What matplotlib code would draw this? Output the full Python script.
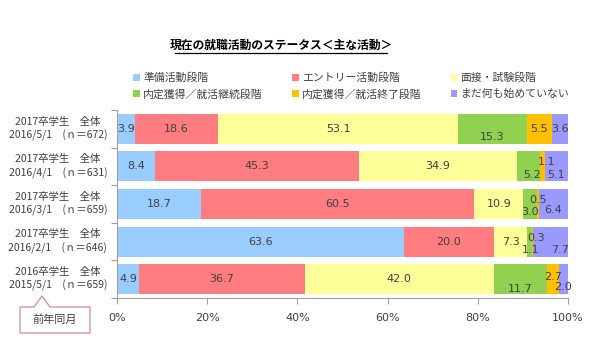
import matplotlib
matplotlib.use("Agg")
import matplotlib.pyplot as plt
from matplotlib.patches import Patch, Polygon
from matplotlib.lines import Line2D
import numpy as np

plt.rcParams['font.family'] = ['Noto Sans CJK JP', 'DejaVu Sans']

title = "現在の就職活動のステータス＜主な活動＞"
series = ["準備活動段階", "エントリー活動段階", "面接・試験段階",
          "内定獲得／就活継続段階", "内定獲得／就活終了段階", "まだ何も始めていない"]
colors = ["#99CCFF", "#FF7C80", "#FFFF99", "#92D050", "#FFC000", "#9999FF"]
categories = ["2017卒学生　全体\n2016/5/1　(ｎ＝672)",
              "2017卒学生　全体\n2016/4/1　(ｎ＝631)",
              "2017卒学生　全体\n2016/3/1　(ｎ＝659)",
              "2017卒学生　全体\n2016/2/1　(ｎ＝646)",
              "2016卒学生　全体\n2015/5/1　(ｎ＝659)"]
s_prep = [3.9, 8.4, 18.7, 63.6, 4.9]
s_entry = [18.6, 45.3, 60.5, 20.0, 36.7]
s_interview = [53.1, 34.9, 10.9, 7.3, 42.0]
s_offer_cont = [15.3, 5.2, 3.0, 1.1, 11.7]
s_offer_end = [5.5, 1.1, 0.5, 0.3, 2.7]
s_not_started = [3.6, 5.1, 6.4, 7.7, 2.0]
values = [s_prep, s_entry, s_interview, s_offer_cont, s_offer_end, s_not_started]
xticklabels = ["0%", "20%", "40%", "60%", "80%", "100%"]
callout_text = "前年同月"

# label offsets in pixels (dx right, dy down) for crowded small segments
offsets = {
    (0, 3): (0, 8),
    (1, 3): (4, 9), (1, 4): (4, -4), (1, 5): (0, 9),
    (2, 3): (0, 8), (2, 4): (0, -4), (2, 5): (0, 6),
    (3, 3): (1, 8), (3, 4): (3, -4), (3, 5): (9, 8),
    (4, 3): (0, 10), (4, 4): (0, -2), (4, 5): (0, 8),
}

W, H = 600, 357
fig = plt.figure(figsize=(6, 3.57), dpi=100)
fig.patch.set_facecolor("white")

def fx(px):
    return px / W

def fy(py):
    return 1 - py / H

ax = fig.add_axes([fx(117), fy(298), fx(568) - fx(117), fy(110) - fy(298)])

y = np.arange(len(categories))
left = np.zeros(len(categories))
txtcol = "#404040"
for si, (vals, c) in enumerate(zip(values, colors)):
    vals = np.array(vals)
    ax.barh(y, vals, left=left, height=0.8, color=c, edgecolor="none", label=series[si])
    for ri, v in enumerate(vals):
        dx, dy = offsets.get((ri, si), (0, 0))
        ax.annotate(f"{v:.1f}", (left[ri] + v / 2, y[ri]), xytext=(dx, -dy),
                    textcoords="offset pixels", ha="center", va="center",
                    fontsize=8, color=txtcol, family="DejaVu Sans")
    left += vals

ax.set_xlim(0, 100)
ax.set_ylim(len(categories) - 0.5, -0.5)
ax.set_xticks(np.arange(0, 101, 20))
ax.set_xticklabels(xticklabels, fontsize=8, color=txtcol, family="DejaVu Sans")
ax.tick_params(axis="x", length=4, color="#A0A0A0", pad=7)
ax.set_yticks(np.arange(-0.5, len(categories), 1.0))
ax.set_yticklabels([])
ax.tick_params(axis="y", length=4, color="#A0A0A0")
for sp in ["top", "right"]:
    ax.spines[sp].set_visible(False)
for sp in ["left", "bottom"]:
    ax.spines[sp].set_color("#A0A0A0")

for ri, lab in enumerate(categories):
    ax.text(fx(104) - fx(117), y[ri], lab, transform=ax.get_yaxis_transform(), ha="right",
            va="center", multialignment="center", fontsize=7.5, color=txtcol, linespacing=1.35)

# legend, row-major order
handles = [Patch(facecolor=c, edgecolor="none") for c in colors]
order = [0, 3, 1, 4, 2, 5]
fig.legend([handles[i] for i in order], [series[i] for i in order], ncol=3,
           loc="center left", bbox_to_anchor=(fx(128), fy(86)), frameon=False,
           fontsize=7.8, handlelength=0.6, handleheight=0.6, handletextpad=0.3,
           columnspacing=2.7, labelspacing=0.55, labelcolor=txtcol, borderpad=0)

# title with underline
fig.text(fx(281), fy(45), title, ha="center", va="center", fontsize=8.5,
         fontweight="bold", color="#000000")
fig.add_artist(Line2D([fx(175), fx(387)], [fy(53), fy(53)], color="black", lw=0.9,
                      transform=fig.transFigure))

# callout
pts = [(20, 307), (34, 307), (42, 296), (50, 307), (90, 307), (90, 333), (20, 333)]
fig.add_artist(Polygon([(fx(a), fy(b)) for a, b in pts], closed=True, facecolor="white",
                       edgecolor="#D99694", lw=1.0, transform=fig.transFigure))
fig.text(fx(55), fy(320), callout_text, ha="center", va="center", fontsize=8, color=txtcol)

fig.savefig("out.png", dpi=100)
